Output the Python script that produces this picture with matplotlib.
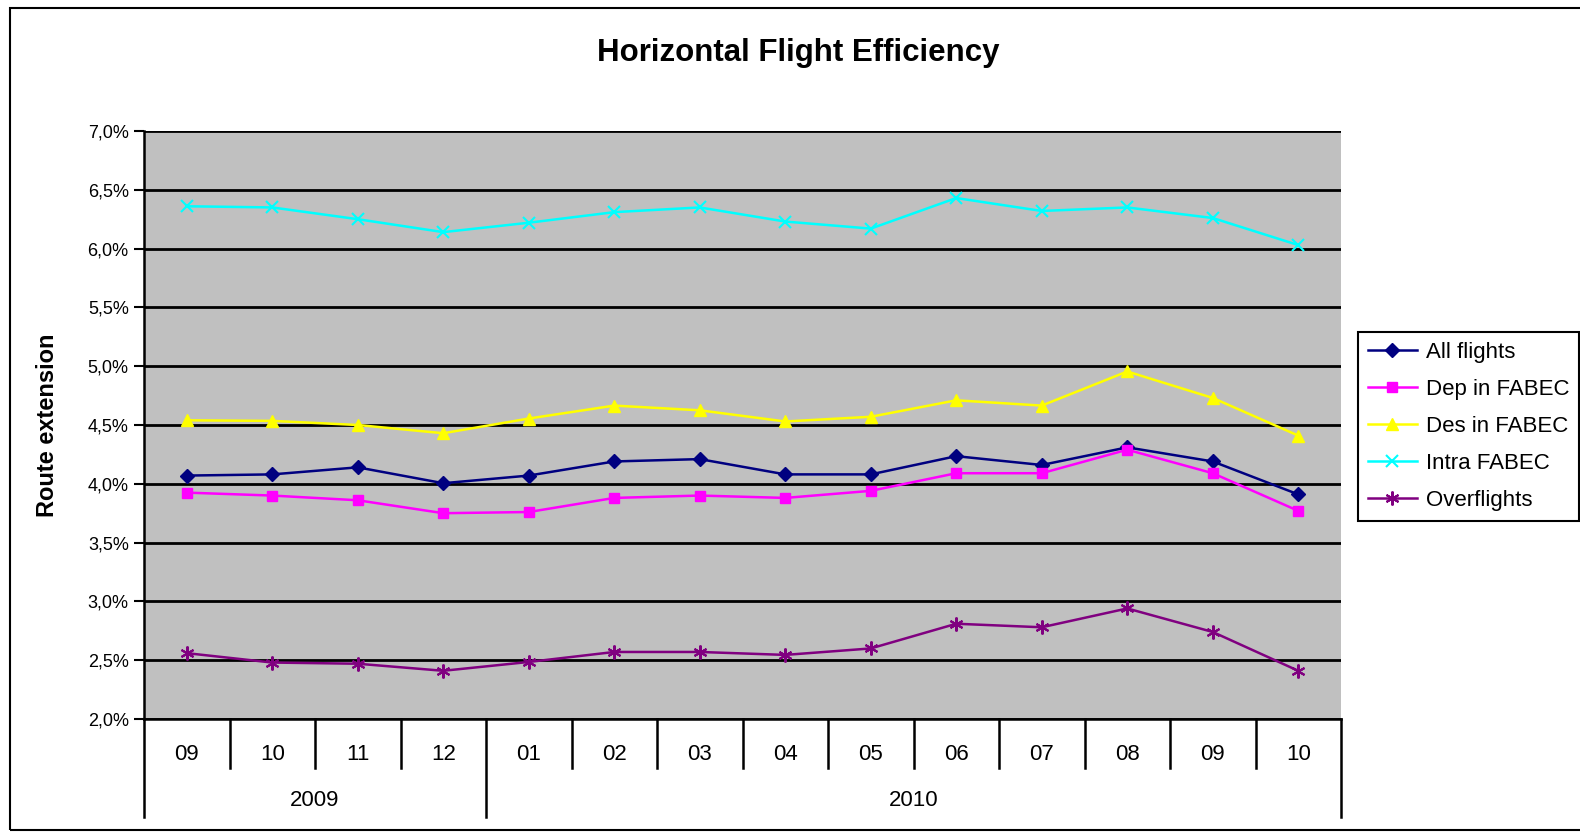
import matplotlib
matplotlib.use("Agg")
import matplotlib.pyplot as plt
from matplotlib.patches import Rectangle

plt.rcParams['font.family'] = ['Liberation Sans', 'DejaVu Sans']

months = ['09', '10', '11', '12', '01', '02', '03', '04', '05', '06', '07', '08', '09', '10']
years = ['2009', '2010']
year_counts = [4, 10]

all_flights = [4.07, 4.08, 4.14, 4.005, 4.07, 4.19, 4.21, 4.08, 4.08, 4.235, 4.16, 4.31, 4.19, 3.91]
dep_fabec = [3.925, 3.90, 3.86, 3.75, 3.76, 3.88, 3.90, 3.88, 3.94, 4.09, 4.09, 4.29, 4.09, 3.77]
des_fabec = [4.54, 4.535, 4.50, 4.43, 4.555, 4.665, 4.625, 4.53, 4.57, 4.71, 4.665, 4.955, 4.73, 4.41]
intra_fabec = [6.36, 6.35, 6.25, 6.14, 6.22, 6.31, 6.35, 6.23, 6.17, 6.43, 6.32, 6.35, 6.26, 6.03]
overflights = [2.56, 2.48, 2.47, 2.41, 2.485, 2.57, 2.57, 2.545, 2.60, 2.81, 2.78, 2.94, 2.74, 2.41]

y_ticks = [2.0, 2.5, 3.0, 3.5, 4.0, 4.5, 5.0, 5.5, 6.0, 6.5, 7.0]
y_ticklabels = ['2,0%', '2,5%', '3,0%', '3,5%', '4,0%', '4,5%', '5,0%', '5,5%', '6,0%', '6,5%', '7,0%']

W, H = 1580, 834
fig = plt.figure(figsize=(W / 100, H / 100), dpi=100)
fig.patch.set_facecolor('white')

# outer border
fig.patches.append(Rectangle((10 / W, 1 - 830 / H), (1600 - 10) / W, (830 - 8) / H,
                             transform=fig.transFigure, fill=False, edgecolor='black',
                             linewidth=1.5))

left, right, top, bottom = 144, 1341, 131, 719
ax = fig.add_axes([left / W, 1 - bottom / H, (right - left) / W, (bottom - top) / H])
ax.set_facecolor('#C0C0C0')

x = list(range(len(months)))
series = [
    (all_flights, 'All flights', '#000080', 'D', 7),
    (dep_fabec, 'Dep in FABEC', '#FF00FF', 's', 7.5),
    (des_fabec, 'Des in FABEC', '#FFFF00', '^', 9),
    (intra_fabec, 'Intra FABEC', '#00FFFF', 'x', 8),
    (overflights, 'Overflights', '#800080', (6, 2, 0), 10),
]
handles = []
for vals, lab, col, mk, ms in series:
    h, = ax.plot(x, vals, color=col, marker=mk, markersize=ms, linewidth=1.8,
                 markeredgewidth=1.5 if mk in ('x',) or isinstance(mk, tuple) else 1,
                 markeredgecolor=col, markerfacecolor=col, label=lab, zorder=3)
    handles.append(h)

ax.set_xlim(-0.5, len(months) - 0.5)
ax.set_ylim(2.0, 7.0)
ax.set_yticks(y_ticks)
ax.set_yticklabels(y_ticklabels, fontsize=13)
ax.yaxis.grid(True, color='black', linewidth=2)
ax.set_axisbelow(True)
ax.tick_params(axis='y', direction='out', length=7, width=1.5, pad=4, colors='black')
ax.set_xticks([])
for s in ['top', 'right']:
    ax.spines[s].set_visible(False)
ax.spines['left'].set_linewidth(1.8)
ax.spines['bottom'].set_linewidth(1.8)

ax.set_ylabel('Route extension', fontsize=17, fontweight='bold')
ax.yaxis.set_label_coords((59 - left) / (right - left), 0.5)

# multi-level category axis
tr = ax.get_xaxis_transform()
month_depth = -(768 - bottom) / (bottom - top)
year_depth = -(817 - bottom) / (bottom - top)
month_y = -(754 - bottom) / (bottom - top)
year_y = -(800 - bottom) / (bottom - top)
boundaries = [-0.5]
acc = -0.5
for c in year_counts:
    acc += c
    boundaries.append(acc)
for i in range(len(months) - 1):
    b = i + 0.5
    if b in boundaries:
        continue
    ax.plot([b, b], [0, month_depth], transform=tr, color='black', lw=1.8, clip_on=False)
for b in boundaries:
    ax.plot([b, b], [0, year_depth], transform=tr, color='black', lw=1.8, clip_on=False)
for i, m in enumerate(months):
    ax.text(i, month_y, m, transform=tr, ha='center', va='center', fontsize=16)
start = -0.5
for yr, c in zip(years, year_counts):
    ax.text(start + c / 2, year_y, yr, transform=tr, ha='center', va='center', fontsize=16)
    start += c

fig.text(798 / W, 1 - 53 / H, 'Horizontal Flight Efficiency', ha='center', va='center',
         fontsize=22.5, fontweight='bold')

leg = fig.legend(handles=handles, loc='upper left', bbox_to_anchor=(1358 / W, 1 - 332 / H),
                 fontsize=16, frameon=True, fancybox=False, edgecolor='black',
                 framealpha=1, handlelength=2.2, handletextpad=0.4, borderpad=0.45,
                 labelspacing=0.72, borderaxespad=0)
leg.get_frame().set_linewidth(1.5)

fig.savefig('out.png', dpi=100)
